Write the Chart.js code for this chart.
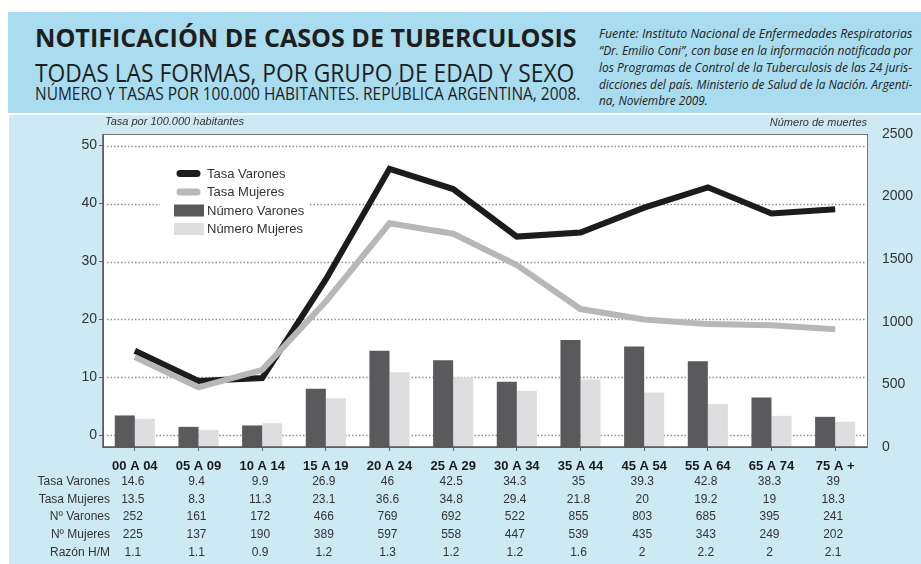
<!DOCTYPE html>
<html>
<head>
<meta charset="utf-8">
<script src="https://cdn.jsdelivr.net/npm/chart.js@4.4.0/dist/chart.umd.min.js"></script>
<style>
  html, body { margin: 0; padding: 0; background: #fff; }
  #page { position: relative; width: 921px; height: 564px; overflow: hidden; background: #fff; }
  #band { position: absolute; left: 8px; top: 12px; width: 913px; height: 101px; background: #a9dcef; }
  #panel { position: absolute; left: 9px; top: 115px; width: 912px; height: 449px; background: #cde9f4; }
  .t { position: absolute; white-space: nowrap; transform-origin: 0 0; color: #1e1e1e; font-family: "Open Sans", sans-serif; }
  .src { font-style: italic; font-size: 12.3px; line-height: 12.3px; color: #222; left: 599px; }
  canvas { position: absolute; left: 0; top: 0; }
</style>
</head>
<body>
<div id="page">
  <div id="band"></div>
  <div id="panel"></div>

  <div class="t" data-w="542" style="left:35px; top:24.8px; font-size:25px; line-height:25px; font-weight:700;">NOTIFICACIÓN DE CASOS DE TUBERCULOSIS</div>
  <div class="t" data-w="539" style="left:35px; top:59.8px; font-size:25px; line-height:25px;">TODAS LAS FORMAS, POR GRUPO DE EDAD Y SEXO</div>
  <div class="t" data-w="545" style="left:35px; top:84px; font-size:18px; line-height:18px;">NÚMERO Y TASAS POR 100.000 HABITANTES. REPÚBLICA ARGENTINA, 2008.</div>

  <div class="t src" data-w="313" style="top:28.1px;">Fuente: Instituto Nacional de Enfermedades Respiratorias</div>
  <div class="t src" data-w="313" style="top:45.1px;">“Dr. Emilio Coni”, con base en la información notificada por</div>
  <div class="t src" data-w="313" style="top:62.1px;">los Programas de Control de la Tuberculosis de las 24 juris-</div>
  <div class="t src" data-w="313" style="top:79.1px;">dicciones del país. Ministerio de Salud de la Nación. Argenti-</div>
  <div class="t src" data-w="auto" style="top:95.1px;">na, Noviembre 2009.</div>

  <canvas id="chart" width="921" height="564"></canvas>
</div>
<script>
// grupos de edad
const grupos = ['00 A 04', '05 A 09', '10 A 14', '15 A 19', '20 A 24', '25 A 29',
                '30 A 34', '35 A 44', '45 A 54', '55 A 64', '65 A 74', '75 A +'];
// tasas por 100.000 habitantes
const tasaVarones = [14.6, 9.4, 9.9, 26.9, 46, 42.5, 34.3, 35, 39.3, 42.8, 38.3, 39];
const tasaMujeres = [13.5, 8.3, 11.3, 23.1, 36.6, 34.8, 29.4, 21.8, 20, 19.2, 19, 18.3];
// numero de casos
const numVarones = [252, 161, 172, 466, 769, 692, 522, 855, 803, 685, 395, 241];
const numMujeres = [225, 137, 190, 389, 597, 558, 447, 539, 435, 343, 249, 202];
const razonHM = [1.1, 1.1, 0.9, 1.2, 1.3, 1.2, 1.2, 1.6, 2, 2.2, 2, 2.1];
// ticks
const ticksTasa = [0, 10, 20, 30, 40, 50];
const ticksNumero = [0, 500, 1000, 1500, 2000, 2500];

const FONT = '"Liberation Sans", Arial, sans-serif';

// ajusta el ancho de los textos del encabezado
function fitHeader() {
  const els = document.querySelectorAll('.t');
  let lastScale = 1;
  els.forEach(el => {
    el.style.transform = 'none';
    const nat = el.scrollWidth;
    let s;
    if (el.dataset.w === 'auto') s = lastScale;
    else s = Number(el.dataset.w) / nat;
    lastScale = s;
    el.style.transform = 'scaleX(' + s + ')';
  });
}
fitHeader();
if (document.fonts) document.fonts.ready.then(fitHeader);

const tableRows = [
  ['Tasa Varones', tasaVarones],
  ['Tasa Mujeres', tasaMujeres],
  ['Nº Varones', numVarones],
  ['Nº Mujeres', numMujeres],
  ['Razón H/M', razonHM]
];

const extras = {
  id: 'extras',
  beforeDraw(chart) {
    const { ctx, chartArea: a } = chart;
    ctx.save();
    ctx.fillStyle = '#fff';
    ctx.fillRect(a.left, a.top, a.right - a.left, a.bottom - a.top);
    ctx.restore();
  },
  beforeDatasetsDraw(chart) {
    const { ctx, chartArea: a } = chart;
    const ds = chart.data.datasets;
    ctx.save();
    // lineas punteadas de la grilla
    ctx.strokeStyle = '#8f8f8f';
    ctx.lineWidth = 1.5;
    ctx.setLineDash([1.5, 2]);
    ticksTasa.forEach(v => {
      const y = Math.round(chart.scales.y.getPixelForValue(v)) + 0.5;
      ctx.beginPath();
      ctx.moveTo(a.left + 4, y);
      ctx.lineTo(a.right - 2, y);
      ctx.stroke();
    });
    ctx.setLineDash([]);

    ctx.fillStyle = '#fff';
    ctx.fillRect(160, 158, 148, 84);
    const rowsY = [173.5, 192, 210.5, 229];
    ctx.font = '13px ' + FONT;
    ctx.textBaseline = 'middle';
    ctx.textAlign = 'left';
    ds.forEach((d, i) => {
      const y = rowsY[i];
      if (d.type === 'line') {
        ctx.strokeStyle = d.borderColor;
        ctx.lineWidth = 7;
        ctx.lineCap = 'round';
        ctx.beginPath();
        ctx.moveTo(180, y);
        ctx.lineTo(197, y);
        ctx.stroke();
      } else {
        ctx.fillStyle = d.backgroundColor;
        ctx.fillRect(174, y - 6, 30, 12);
      }
      ctx.fillStyle = '#333';
      ctx.fillText(d.label, 207, y + 0.5);
    });
    ctx.restore();
  },
  afterDatasetsDraw(chart) {
    const { ctx, chartArea: a } = chart;
    ctx.save();
    ctx.strokeStyle = '#777';
    ctx.lineWidth = 1;
    ctx.strokeRect(a.left + 0.5, a.top + 0.5, a.right - a.left, a.bottom - a.top);
    ctx.strokeStyle = '#555';
    ctx.lineWidth = 1.5;
    ctx.beginPath();
    ctx.moveTo(a.left, a.top);
    ctx.lineTo(a.left, a.bottom);
    ctx.lineTo(a.right, a.bottom);
    ctx.stroke();
    ctx.restore();
  },
  afterDraw(chart) {
    const { ctx, chartArea: a } = chart;
    const x = chart.scales.x;
    ctx.save();
    ctx.fillStyle = '#333';
    ctx.textBaseline = 'middle';
    ctx.font = 'italic 11px ' + FONT;
    ctx.textAlign = 'left';
    ctx.fillText('Tasa por 100.000 habitantes', a.left + 2, 122);
    ctx.textAlign = 'right';
    ctx.fillText('Número de muertes', a.right, 123);

    ctx.font = '12px ' + FONT;
    tableRows.forEach((row, r) => {
      const y = 481.5 + r * 17.7;
      ctx.textAlign = 'right';
      ctx.fillText(row[0], 110, y);
      ctx.textAlign = 'center';
      row[1].forEach((v, i) => {
        ctx.fillText(String(v), x.getPixelForValue(i) - 2, y);
      });
    });
    ctx.restore();
  }
};

new Chart(document.getElementById('chart'), {
  data: {
    labels: grupos,
    datasets: [
      {
        type: 'line', label: 'Tasa Varones', data: tasaVarones, yAxisID: 'y',
        borderColor: '#1c1c1c', borderWidth: 6, pointRadius: 0, tension: 0,
        borderJoinStyle: 'miter', order: 1
      },
      {
        type: 'line', label: 'Tasa Mujeres', data: tasaMujeres, yAxisID: 'y',
        borderColor: '#b6b7b9', borderWidth: 6, pointRadius: 0, tension: 0,
        borderJoinStyle: 'miter', order: 0
      },
      {
        type: 'bar', label: 'Número Varones', data: numVarones, yAxisID: 'y2',
        backgroundColor: '#5a5a5c', categoryPercentage: 0.63, barPercentage: 1, order: 2
      },
      {
        type: 'bar', label: 'Número Mujeres', data: numMujeres, yAxisID: 'y2',
        backgroundColor: '#dddee0', categoryPercentage: 0.63, barPercentage: 1, order: 3
      }
    ]
  },
  options: {
    responsive: false,
    animation: false,
    layout: { padding: { top: 134, left: 0, right: 0, bottom: 0 } },
    plugins: { legend: { display: false }, tooltip: { enabled: false } },
    scales: {
      x: {
        afterFit: s => { s.height = 117; },
        grid: { display: true, drawOnChartArea: false, drawTicks: true, tickLength: 4, color: '#666', offset: false },
        border: { display: false },
        ticks: {
          padding: 8, maxRotation: 0, autoSkip: false, color: '#1a1a1a',
          font: { family: FONT, size: 13, weight: 'bold' }
        }
      },
      y: {
        position: 'left', min: -2, max: 52,
        afterFit: s => { s.width = 103; },
        afterBuildTicks: s => { s.ticks = ticksTasa.map(v => ({ value: v })); },
        grid: { drawOnChartArea: false, drawTicks: true, tickLength: 4, color: '#666' },
        border: { display: false },
        ticks: { padding: 2, color: '#333', font: { family: FONT, size: 14 }, callback: v => String(v) }
      },
      y2: {
        position: 'right', min: 0, max: 2500,
        afterFit: s => { s.width = 54; },
        afterBuildTicks: s => { s.ticks = ticksNumero.map(v => ({ value: v })); },
        grid: { display: false, drawTicks: false },
        border: { display: false },
        ticks: { padding: 15, color: '#333', font: { family: FONT, size: 14 }, callback: v => String(v) }
      }
    }
  },
  plugins: [extras]
});
</script>
</body>
</html>
